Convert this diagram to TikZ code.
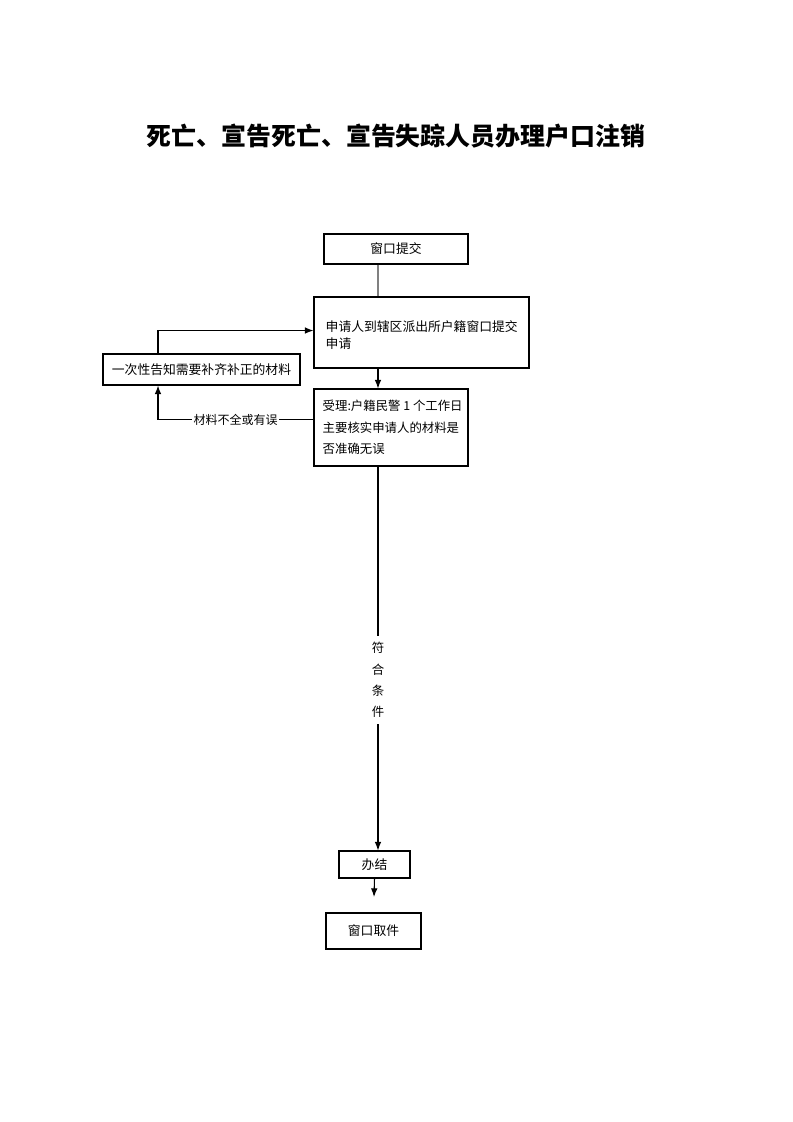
\documentclass[tikz,border=0pt]{standalone}
\usepackage{fontspec}
\newfontfamily\cjk{Noto Sans CJK SC}
\usetikzlibrary{positioning,arrows.meta}
\tikzset{
  box/.style={draw,line width=0.8pt,rectangle,inner sep=0pt,font=\cjk\fontsize{9.6}{13}\selectfont},
  flow/.style={line width=0.8pt,-{Latex[length=6.5pt,width=5pt]}},
  lbl/.style={font=\cjk\fontsize{9}{12}\selectfont,fill=white,inner sep=1pt}
}
\begin{document}
\begin{tikzpicture}[x=0.75pt,y=-0.75pt]
  \useasboundingbox[fill=white] (0,0) rectangle (793,1122);
  \node[font=\cjk\bfseries\fontsize{18.7}{22}\selectfont] (title) at (396,136) {死亡、宣告死亡、宣告失踪人员办理户口注销};
  \coordinate (mainx) at (378,0);
  \node[box,minimum width=108pt,minimum height=22.5pt] (submit) at (396,249) {窗口提交};
  \node[box,minimum width=161.25pt,minimum height=53.25pt] (apply) at (421.5,332.5) {};
  \node[anchor=west,align=left,inner sep=0pt,font=\cjk\fontsize{9.6}{12.75}\selectfont] (applytxt) at ([xshift=9pt,yshift=-2.2pt]apply.west) {申请人到辖区派出所户籍窗口提交\\申请};
  \node[box,minimum width=147.75pt,minimum height=23.25pt] (notice) at (201.5,369.5) {一次性告知需要补齐补正的材料};
  \node[box,minimum width=115.5pt,minimum height=57.75pt] (accept) at (391,427.5) {};
  \node[anchor=west,align=left,inner sep=0pt,font=\cjk\fontsize{9.3}{16}\selectfont] (accepttxt) at ([xshift=6.75pt]accept.west) {受理:户籍民警 1 个工作日\\主要核实申请人的材料是\\否准确无误};
  \node[box,minimum width=53.25pt,minimum height=20.25pt] (done) at (374.5,864.5) {办结};
  \node[box,minimum width=71.25pt,minimum height=27pt] (pickup) at (373.5,931) {窗口取件};
  \coordinate (pickend) at (374,897);

  \draw[line width=0.8pt,gray] (submit.south -| mainx) -- (apply.north -| mainx);
  \draw[flow] (apply.south -| mainx) -- (accept.north -| mainx);
  \draw[flow] ([xshift=-43.5*0.75pt]notice.north) |- ([yshift=1.5pt]apply.west);
  \draw[flow] ([yshift=6pt]accept.west) -| ([xshift=-43.5*0.75pt]notice.south)
    node[lbl,pos=0.25] (lack) {材料不全或有误};
  \draw[flow] (accept.south -| mainx) -- (done.north -| mainx)
    node[lbl,pos=0.556,align=center,font=\cjk\fontsize{9.3}{16}\selectfont,inner ysep=5pt] (ok) {符\\合\\条\\件};
  \draw[flow] (done.south) -- (pickend);
\end{tikzpicture}
\end{document}
